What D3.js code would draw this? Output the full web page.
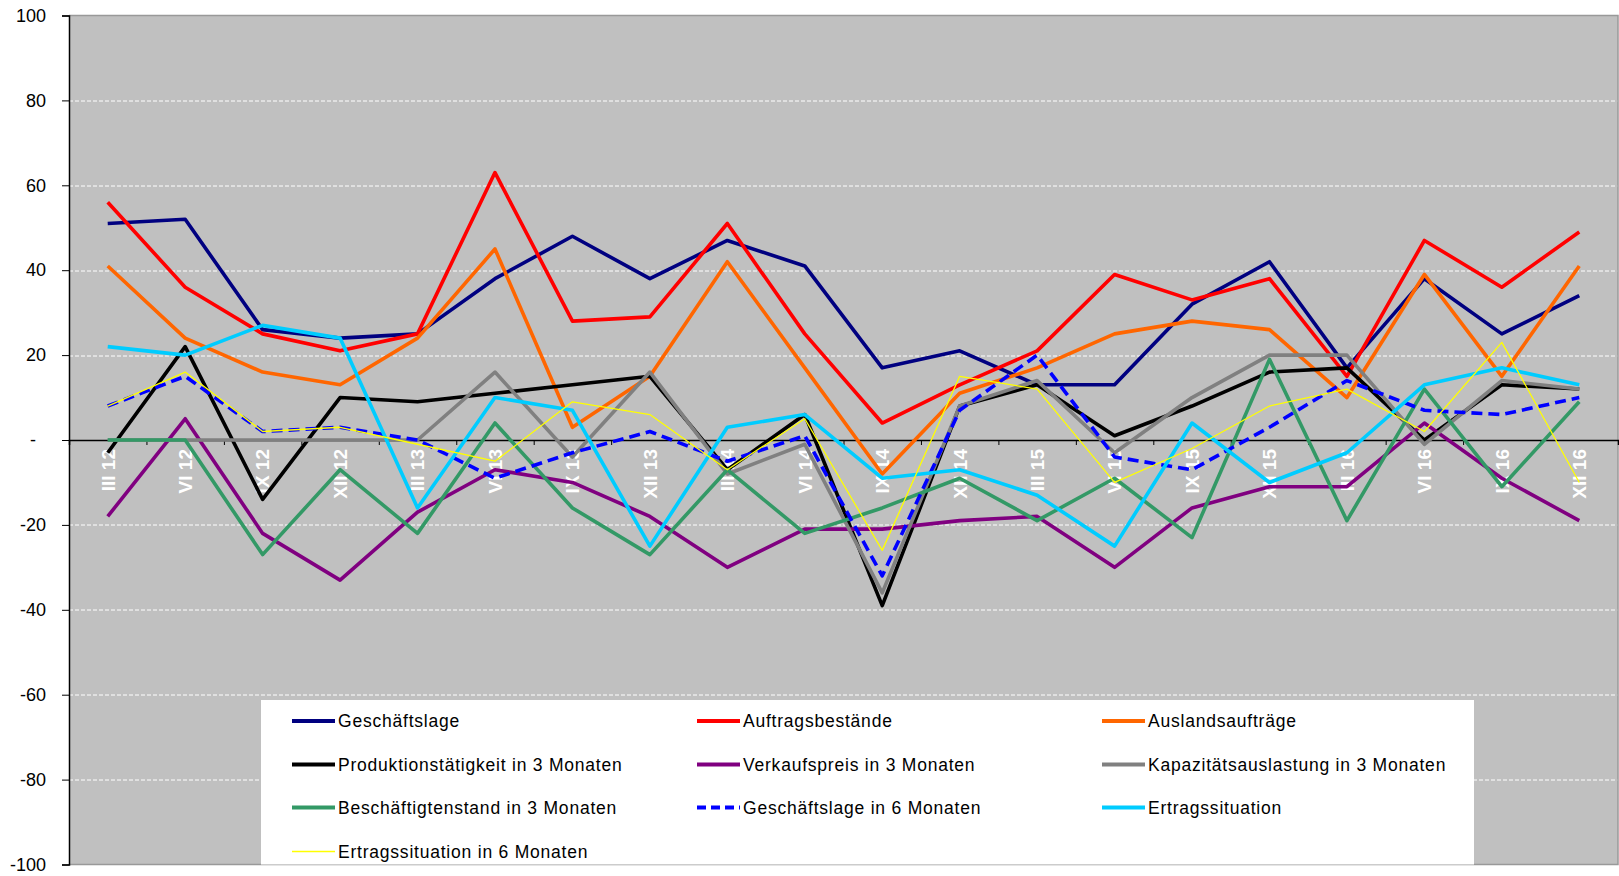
<!DOCTYPE html>
<html>
<head>
<meta charset="utf-8">
<script src="https://cdn.jsdelivr.net/npm/d3@7"></script>
<style>
  body { margin: 0; background: #fff; }
  svg { display: block; font-family: "Liberation Sans", Arial, sans-serif; }
</style>
</head>
<body>
<div id="chart"></div>
<script>
// quarters (roman month + year)
const quarters = ["III 12", "VI 12", "IX 12", "XII 12", "III 13", "VI 13", "IX 13", "XII 13",
  "III 14", "VI 14", "IX 14", "XII 14", "III 15", "VI 15", "IX 15", "XII 15",
  "III 16", "VI 16", "IX 16", "XII 16"];

const yTicks = [100, 80, 60, 40, 20, 0, -20, -40, -60, -80, -100];

const geschaeftslage    = [51, 52, 26, 24, 25, 38, 48, 38, 47, 41, 17, 21, 13, 13, 32, 42, 17, 38, 25, 34];
const auftragsbestaende = [56, 36, 25, 21, 25, 63, 28, 29, 51, 25, 4, 13, 21, 39, 33, 38, 15, 47, 36, 49];
const auslandsauftraege = [41, 24, 16, 13, 24, 45, 3, 15, 42, 17, -8, 11, 17, 25, 28, 26, 10, 39, 15, 41];
const produktion3       = [-3, 22, -14, 10, 9, 11, 13, 15, -7, 6, -39, 8, 13, 1, 8, 16, 17, 0, 13, 12];
const verkaufspreis3    = [-18, 5, -22, -33, -17, -7, -10, -18, -30, -21, -21, -19, -18, -30, -16, -11, -11, 4, -9, -19];
const kapazitaet3       = [0, 0, 0, 0, 0, 16, -4, 16, -8, -1, -36, 8, 14, -3, 10, 20, 20, -1, 14, 12];
const beschaeftigte3    = [0, 0, -27, -7, -22, 4, -16, -27, -7, -22, -16, -9, -19, -9, -23, 19, -19, 12, -11, 9];
const geschaeftslage6   = [8, 15, 2, 3, 0, -9, -3, 2, -5, 1, -32, 7, 20, -4, -7, 3, 14, 7, 6, 10];
const ertrag            = [22, 20, 27, 24, -16, 10, 7, -25, 3, 6, -9, -7, -13, -25, 4, -10, -3, 13, 17, 13];
const ertrag6           = [8, 16, 2, 3, -1, -5, 9, 6, -7, 5, -26, 15, 12, -10, -2, 8, 12, 2, 23, -10];

const seriesNames = ["Geschäftslage", "Auftragsbestände", "Auslandsaufträge",
  "Produktionstätigkeit in 3 Monaten", "Verkaufspreis in 3 Monaten", "Kapazitätsauslastung in 3 Monaten",
  "Beschäftigtenstand in 3 Monaten", "Geschäftslage in 6 Monaten", "Ertragssituation",
  "Ertragssituation in 6 Monaten"];
const seriesValues = [geschaeftslage, auftragsbestaende, auslandsauftraege, produktion3, verkaufspreis3,
  kapazitaet3, beschaeftigte3, geschaeftslage6, ertrag, ertrag6];
const seriesColors = ["#000080", "#ff0000", "#ff6600", "#000000", "#800080",
  "#808080", "#339966", "#0000ff", "#00ccff", "#ffff00"];

class LineChart {

  constructor(_config) {
    this.config = {
      parentElement: _config.parentElement,
      containerWidth: _config.containerWidth || 1619,
      containerHeight: _config.containerHeight || 876,
      margin: _config.margin || {top: 15.5, right: 1, bottom: 11.5, left: 69}
    };
    this.initVis();
  }

  initVis() {
    let vis = this;
    vis.width = vis.config.containerWidth - vis.config.margin.left - vis.config.margin.right;
    vis.height = vis.config.containerHeight - vis.config.margin.top - vis.config.margin.bottom;

    vis.svg = d3.select(vis.config.parentElement)
      .append("svg")
        .attr("width", vis.config.containerWidth)
        .attr("height", vis.config.containerHeight)
      .append("g")
        .attr("transform", "translate(" + vis.config.margin.left + "," + vis.config.margin.top + ")");

    vis.x = d3.scalePoint()
      .domain(quarters)
      .range([0, vis.width])
      .padding(0.5);

    // category boundaries for the tick marks
    vis.xEdges = d3.scaleLinear()
      .domain([0, quarters.length])
      .range([0, vis.width]);

    vis.y = d3.scaleLinear()
      .domain([-100, 100])
      .range([vis.height, 0]);

    vis.renderVis();
  }

  renderVis() {
    let vis = this;

    vis.svg.append("rect")
      .attr("width", vis.width)
      .attr("height", vis.height)
      .attr("fill", "#c0c0c0");

    // dashed white gridlines
    vis.svg.append("g")
      .selectAll("line")
      .data(yTicks.filter(d => d !== 0 && Math.abs(d) !== 100))
      .join("line")
        .attr("x1", 0)
        .attr("x2", vis.width)
        .attr("y1", d => Math.round(vis.y(d)) + 0.5)
        .attr("y2", d => Math.round(vis.y(d)) + 0.5)
        .attr("stroke", "#fff")
        .attr("stroke-width", 1)
        .attr("stroke-dasharray", "4,2");

    // frame top / right / bottom
    vis.svg.append("path")
      .attr("d", `M0,0H${vis.width}V${vis.height}H0`)
      .attr("fill", "none")
      .attr("stroke", "#999")
      .attr("stroke-width", 1.5);

    // y axis
    let yAxis = d3.axisLeft(vis.y)
      .tickValues(yTicks)
      .tickSize(7)
      .tickPadding(16)
      .tickFormat(d => d === 0 ? "-" : d);

    let yAxisG = vis.svg.append("g").call(yAxis);
    yAxisG.select(".domain").attr("stroke", "#000").attr("stroke-width", 1.5);
    yAxisG.selectAll(".tick line").attr("stroke", "#000");
    yAxisG.selectAll("text")
      .attr("font-size", 18)
      .attr("font-family", "Liberation Sans, Arial, sans-serif")
      .attr("fill", "#000")
      .attr("dx", d => d === 0 ? -10 : 0);

    // category axis crossing at zero
    let xAxis = d3.axisBottom(vis.xEdges)
      .tickValues(d3.range(quarters.length + 1))
      .tickSize(5)
      .tickFormat("");

    vis.svg.append("g")
      .attr("transform", "translate(0," + vis.y(0) + ")")
      .call(xAxis)
      .call(g => g.select(".domain").attr("stroke", "#000").attr("stroke-width", 1.5))
      .call(g => g.selectAll(".tick line").attr("stroke", "#000"));

    vis.svg.append("g")
      .selectAll("text")
      .data(quarters)
      .join("text")
        .attr("transform", d => "translate(" + vis.x(d) + "," + (vis.y(0) + 9) + ") rotate(-90)")
        .attr("text-anchor", "end")
        .attr("dy", "0.36em")
        .attr("fill", "#fff")
        .attr("font-weight", "bold")
        .attr("font-size", 19)
        .text(d => d);

    // series lines
    let line = d3.line()
      .x((d, i) => vis.x(quarters[i]))
      .y(d => vis.y(d));

    vis.svg.append("g")
      .selectAll("path")
      .data(seriesValues)
      .join("path")
        .attr("d", line)
        .attr("fill", "none")
        .attr("stroke", (d, i) => seriesColors[i])
        .attr("stroke-width", (d, i) => i === 9 ? 1.3 : 3.6)
        .attr("stroke-dasharray", (d, i) => i === 7 ? "11,6" : null)
        .attr("stroke-linejoin", "round");

    // legend box
    let legend = vis.svg.append("g")
      .attr("transform", "translate(" + (261 - vis.config.margin.left) + "," + (700 - vis.config.margin.top) + ")");

    legend.append("rect")
      .attr("width", 1474 - 261)
      .attr("height", vis.height - (700 - vis.config.margin.top))
      .attr("fill", "#fff");

    let colX = [31, 436, 841];
    let rowY = [21, 64.5, 107.5, 151.5];

    let items = legend.selectAll(".legend-item")
      .data(seriesNames)
      .join("g")
        .attr("class", "legend-item")
        .attr("transform", (d, i) => "translate(" + colX[i % 3] + "," + rowY[Math.floor(i / 3)] + ")");

    items.append("line")
      .attr("x1", 0)
      .attr("x2", 43)
      .attr("stroke", (d, i) => seriesColors[i])
      .attr("stroke-width", (d, i) => i === 9 ? 1.3 : 4)
      .attr("stroke-dasharray", (d, i) => i === 7 ? "9,5" : null);

    items.append("text")
      .attr("x", 46)
      .attr("dy", "0.35em")
      .attr("font-size", 17.5)
      .attr("letter-spacing", 0.78)
      .attr("fill", "#000")
      .text(d => d);
  }
}

new LineChart({parentElement: "#chart"});
</script>
</body>
</html>
